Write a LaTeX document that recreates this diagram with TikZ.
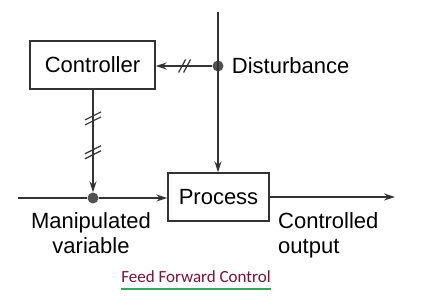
\documentclass[tikz,border=0pt]{standalone}
\usepackage{fontspec}
\setmainfont{Liberation Sans}
\newfontfamily\titlefont{Carlito}
\usetikzlibrary{arrows.meta, positioning}
\definecolor{linegray}{HTML}{333333}
\definecolor{titlered}{HTML}{7A1232}
\definecolor{titlegreen}{HTML}{3AA55A}

\tikzset{
    block/.style={draw=linegray, line width=1.4pt, minimum width=125pt, minimum height=48pt, font=\fontsize{22}{24}\selectfont},
    conn/.style={draw=linegray, line width=1.4pt, -{Stealth[length=11pt, width=7pt]}},
    plain/.style={draw=linegray, line width=1.4pt},
    junction/.style={circle, fill=linegray!85, inner sep=0pt, minimum size=11pt},
    label/.style={font=\fontsize{22}{25}\selectfont, inner sep=0pt},
    hashh/.pic={
        \draw[-, linegray, line width=1.2pt] (-6,6.5) -- (1,-6.5);
        \draw[-, linegray, line width=1.2pt] (-1,6.5) -- (6,-6.5);},
    hashv/.pic={
        \draw[-, linegray, line width=1.2pt] (-8,1.5) -- (8,-6.5);
        \draw[-, linegray, line width=1.2pt] (-8,6.5) -- (8,-1.5);}
}

\begin{document}
\begin{tikzpicture}[x=1pt, y=-1pt]
    \useasboundingbox (0,0) rectangle (422,299);

    \node[block] (ctrl) at (92.5,65) {Controller};
    \node[block, minimum width=101pt] (proc) at (218.5,197) {Process};

    \coordinate (dtop) at (218,12);
    \node[junction] (ddot) at (218,66) {};
    \node[junction] (mdot) at (93,198) {};
    \coordinate (min) at (18,198);
    \coordinate (cout) at (395,197);

    % disturbance line
    \draw[conn] (dtop) -- (proc.north -| dtop);
    \draw[conn] (ddot) -- (ctrl.east |- ddot) pic[pos=0.49]{hashh};

    % controller output to manipulated variable
    \draw[conn] (ctrl.south -| mdot) -- (mdot.north) pic[pos=0.28]{hashv} pic[pos=0.61]{hashv};

    \draw[plain] (min) -- (mdot);
    \draw[conn] (mdot) -- (proc.west |- mdot);
    \draw[conn] (proc.east) -- (cout);

    \node[label, right=8pt of ddot] (dlab) {Disturbance};
    \node[label, align=center, anchor=north] (mlab) at (91,212) {Manipulated\\variable};
    \node[label, align=left, anchor=north west] (clab) at (278,212) {Controlled\\output};

    \node[font=\titlefont\fontsize{17}{19}\selectfont, text=titlered, inner sep=0pt] (title) at (196,277) {Feed Forward Control};
    \draw[titlegreen, line width=2.5pt] (121,289) -- (271,289);
\end{tikzpicture}
\end{document}
